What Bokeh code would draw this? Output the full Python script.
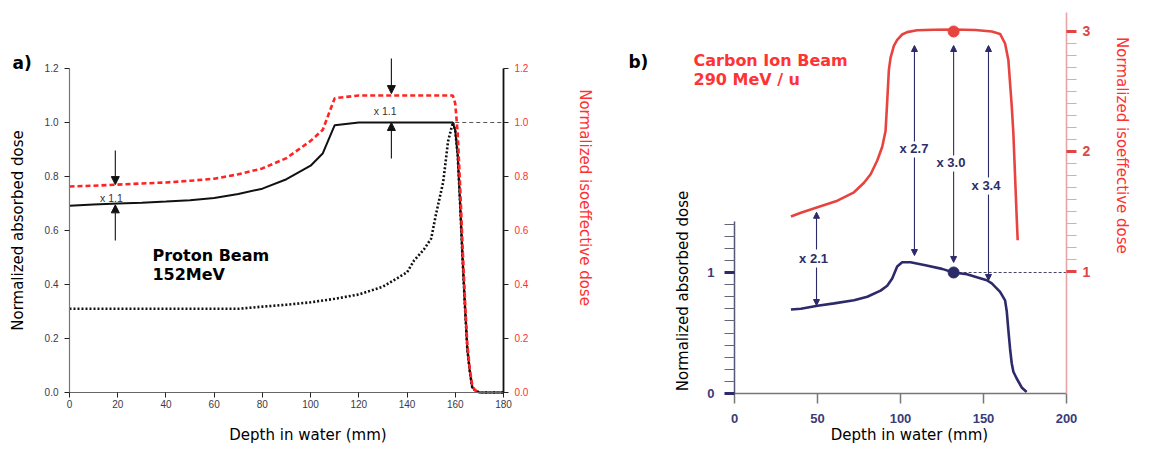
import math
from bokeh.plotting import figure
from bokeh.models import (Range1d, LinearAxis, FixedTicker, PrintfTickFormatter,
                          Label, Arrow, NormalHead)
from bokeh.layouts import row
from bokeh.embed import file_html
from bokeh.resources import INLINE

# ---------------- Panel a: proton beam ----------------
depth_a = [0, 10, 20, 30, 40, 50, 60, 70, 80, 90, 100, 105, 110, 120, 130, 140, 150,
           159, 160, 161, 162, 163, 164, 165, 166, 167, 168, 170, 175, 180]
absorbed_a = [0.692, 0.696, 0.700, 0.703, 0.707, 0.712, 0.720, 0.735, 0.755, 0.790, 0.840,
              0.885, 0.990, 1.0, 1.0, 1.0, 1.0, 1.0, 0.97, 0.88, 0.70, 0.50, 0.32, 0.16,
              0.08, 0.02, 0.01, 0.0, 0.0, 0.0]
isoeffective_a = [0.763, 0.766, 0.770, 0.774, 0.778, 0.784, 0.792, 0.808, 0.830, 0.868,
                  0.932, 0.972, 1.09, 1.10, 1.10, 1.10, 1.10, 1.10, 1.07, 0.96, 0.77, 0.55,
                  0.35, 0.18, 0.09, 0.03, 0.01, 0.0, 0.0, 0.0]
depth_a_dot = [0, 10, 20, 30, 40, 50, 60, 70, 80, 90, 100, 110, 120, 130, 140, 143, 147,
               150, 152, 155, 157, 159, 160, 161, 162, 163, 164, 165, 166, 167, 168, 170,
               175, 180]
dotted_a = [0.31, 0.31, 0.31, 0.31, 0.31, 0.31, 0.31, 0.31, 0.318, 0.325, 0.334, 0.347,
            0.363, 0.392, 0.445, 0.49, 0.53, 0.57, 0.66, 0.78, 0.93, 1.0, 0.97, 0.88, 0.70,
            0.50, 0.32, 0.16, 0.08, 0.02, 0.01, 0.0, 0.0, 0.0]
xticks_a = [0, 20, 40, 60, 80, 100, 120, 140, 160, 180]
yticks_a = [0.0, 0.2, 0.4, 0.6, 0.8, 1.0, 1.2]

# ---------------- Panel b: carbon ion beam ----------------
depth_b_abs = [34, 40, 50, 60, 72, 80, 88, 92, 95, 98, 101, 106, 115, 125, 132, 140, 152,
               155, 160, 163, 164, 165, 166, 167, 168, 170, 173, 176]
absorbed_b = [0.694, 0.70, 0.725, 0.745, 0.77, 0.80, 0.85, 0.89, 0.95, 1.05, 1.085, 1.085,
              1.06, 1.03, 1.0, 0.985, 0.936, 0.91, 0.84, 0.77, 0.68, 0.52, 0.37, 0.25,
              0.18, 0.124, 0.05, 0.013]
depth_b_iso = [34, 40, 50, 62, 72, 78, 82, 86, 89, 91, 92, 93, 94, 96, 98, 101, 104, 110,
               120, 132, 145, 155, 160, 163, 165, 166, 167, 168, 169, 170, 170.6]
isoeffective_b = [1.458, 1.49, 1.536, 1.59, 1.66, 1.74, 1.81, 1.925, 2.04, 2.17, 2.42,
                  2.68, 2.78, 2.88, 2.93, 2.975, 2.995, 3.01, 3.015, 3.017, 3.012, 3.0,
                  2.98, 2.90, 2.76, 2.57, 2.38, 2.15, 1.80, 1.45, 1.26]
xticks_b = [0, 50, 100, 150, 200]
ref_depth_b = [132]
ref_abs_b = [1.0]
ref_iso_b = [3.0]

NAVY = "#2d2a6b"
RED_B = "#e8443f"
RED_A = "#ff2424"

# =============== figure a (frame fills the whole figure; axes fixed in data space) ===============
pa = figure(width=620, height=446, x_range=Range1d(-28.618, 228.53),
            y_range=Range1d(-0.2, 1.45185),
            output_backend="svg", toolbar_location=None, min_border=0)
pa.grid.visible = False
pa.outline_line_color = None

def style_small_axis(ax, line_color, label_color, line_width=1.2):
    ax.axis_line_color = line_color
    ax.axis_line_width = line_width
    ax.major_tick_line_color = "#222222"
    ax.major_tick_out = 5
    ax.major_tick_in = 0
    ax.minor_tick_line_color = None
    ax.major_label_text_font = "Liberation Sans"
    ax.major_label_text_font_size = "10px"
    ax.major_label_text_color = label_color

ax_b = pa.xaxis[0]
ax_b.ticker = FixedTicker(ticks=xticks_a)
ax_b.fixed_location = 0
ax_b.bounds = (0, 180)
style_small_axis(ax_b, "#666666", "#3a3a4a")
ax_b.major_label_standoff = 3

ax_l = pa.yaxis[0]
ax_l.ticker = FixedTicker(ticks=yticks_a)
ax_l.formatter = PrintfTickFormatter(format="%.1f")
ax_l.fixed_location = 0
ax_l.bounds = (0, 1.2)
style_small_axis(ax_l, "#777777", "#3a3a4a")
ax_l.major_label_standoff = 6

ra = LinearAxis(ticker=FixedTicker(ticks=yticks_a), formatter=PrintfTickFormatter(format="%.1f"),
                fixed_location=180, bounds=(0, 1.2))
style_small_axis(ra, "#111111", "#ff3030", 1.8)
ra.major_label_standoff = 6
pa.add_layout(ra, "right")

# curves
pa.line(depth_a_dot, dotted_a, line_color="#111111", line_width=2.6, line_dash="2 2")
pa.line(depth_a, absorbed_a, line_color="#111111", line_width=2)
pa.line(depth_a, isoeffective_a, line_color=RED_A, line_width=2.6, line_dash="5 3")
pa.line([160, 180], [1.0, 1.0], line_color="#555555", line_width=1, line_dash="4 3")

def arr(p, x0, y0, x1, y1, color, size, lw):
    p.add_layout(Arrow(end=NormalHead(size=size, fill_color=color, line_color=color),
                       x_start=x0, y_start=y0, x_end=x1, y_end=y1,
                       line_color=color, line_width=lw))

# x 1.1 arrows
arr(pa, 19, 0.896, 19, 0.770, "#111111", 8, 1.1)
arr(pa, 19, 0.563, 19, 0.695, "#111111", 8, 1.1)
arr(pa, 133.5, 1.237, 133.5, 1.107, "#111111", 8, 1.1)
arr(pa, 133.5, 0.867, 133.5, 1.0, "#111111", 8, 1.1)

def lab(p, x, y, text, size, color="#000000", font="DejaVu Sans", bold=False,
        align="left", angle=0.0):
    p.add_layout(Label(x=x, y=y, text=text, text_font=font, text_font_size=f"{size}px",
                       text_color=color, text_font_style="bold" if bold else "normal",
                       text_align=align, text_baseline="middle", angle=angle))

lab(pa, 17.4, 0.722, "x 1.1", 10.5, "#333333", "Liberation Sans", align="center")
lab(pa, 130.9, 1.044, "x 1.1", 10.5, "#333333", "Liberation Sans", align="center")
lab(pa, -23.6, 1.222, "a)", 17, bold=True)
lab(pa, 34.4, 0.507, "Proton Beam", 16, bold=True)
lab(pa, 34.4, 0.437, "152MeV", 16, bold=True)
lab(pa, -21.2, 0.60, "Normalized absorbed dose", 15, align="center", angle=math.pi / 2)
lab(pa, 214.0, 0.722, "Normalized isoeffective dose", 15, "#ff3030", align="center",
    angle=-math.pi / 2)
lab(pa, 98.9, -0.159, "Depth in water (mm)", 15, align="center")

# =============== figure b ===============
pb = figure(width=513, height=446, x_range=Range1d(-68.675, 240.36),
            y_range=Range1d(-0.438, 3.2479),
            output_backend="svg", toolbar_location=None, min_border=0)
pb.extra_y_ranges = {"iso": Range1d(-0.4583, 3.2583)}
pb.grid.visible = False
pb.outline_line_color = None

bx = pb.xaxis[0]
bx.ticker = FixedTicker(ticks=xticks_b)
bx.fixed_location = 0
bx.bounds = (0, 200)
bx.axis_line_color = "#777777"
bx.axis_line_width = 1.5
bx.major_tick_line_color = "#777777"
bx.major_tick_line_width = 1.5
bx.major_tick_out = 10
bx.major_tick_in = 0
bx.minor_tick_line_color = None
bx.major_label_standoff = 10
bx.major_label_text_font = "Liberation Sans"
bx.major_label_text_font_style = "bold"
bx.major_label_text_font_size = "13px"
bx.major_label_text_color = "#3b3b7a"

by = pb.yaxis[0]
by.ticker = FixedTicker(ticks=[0, 1], minor_ticks=[0.1, 0.2, 0.3, 0.4, 0.5, 0.6, 0.7, 0.8,
                                                  0.9, 1.1, 1.2, 1.3, 1.4])
by.fixed_location = 0
by.bounds = (0, 1.42)
by.axis_line_color = "#55557a"
by.axis_line_width = 1.5
by.major_tick_line_color = NAVY
by.major_tick_line_width = 3
by.major_tick_out = 10
by.major_tick_in = 0
by.minor_tick_line_color = "#666677"
by.minor_tick_line_width = 1.2
by.minor_tick_out = 10
by.minor_tick_in = 0
by.major_label_standoff = 10
by.major_label_text_font = "Liberation Sans"
by.major_label_text_font_style = "bold"
by.major_label_text_font_size = "13px"
by.major_label_text_color = "#3b3b7a"

rb = LinearAxis(y_range_name="iso", fixed_location=200, bounds=(-0.0167, 3.158),
                ticker=FixedTicker(ticks=[1, 2, 3],
                                   minor_ticks=[1 + i / 10 for i in range(1, 10)] +
                                               [2 + i / 10 for i in range(1, 10)]))
rb.axis_line_color = "#e8a5a5"
rb.axis_line_width = 1.6
rb.major_tick_line_color = "#e04545"
rb.major_tick_line_width = 3
rb.major_tick_out = 10
rb.major_tick_in = 0
rb.minor_tick_line_color = "#e8a5a5"
rb.minor_tick_line_width = 1.2
rb.minor_tick_out = 10
rb.minor_tick_in = 0
rb.major_label_standoff = 6
rb.major_label_text_font = "Liberation Sans"
rb.major_label_text_font_style = "bold"
rb.major_label_text_font_size = "14px"
rb.major_label_text_color = "#e04545"
pb.add_layout(rb, "right")

pb.line([ref_depth_b[0], 200], [ref_abs_b[0], ref_abs_b[0]], line_color="#44446a",
        line_width=1, line_dash="3 2")
pb.line(depth_b_iso, isoeffective_b, y_range_name="iso", line_color=RED_B, line_width=2.6)
pb.line(depth_b_abs, absorbed_b, line_color=NAVY, line_width=2.6)
pb.scatter(ref_depth_b, ref_abs_b, size=11, color=NAVY)
pb.scatter(ref_depth_b, ref_iso_b, y_range_name="iso", size=11, color=RED_B)

# ratio arrows
for x, up0, up1, dn0, dn1 in [(49.4, 1.190, 1.498, 1.041, 0.727),
                              (108.4, 2.083, 2.876, 1.950, 1.140),
                              (132.0, 1.967, 2.876, 1.835, 1.083),
                              (153.0, 1.785, 2.876, 1.645, 0.934)]:
    arr(pb, x, up0, x, up1, NAVY, 6, 1.1)
    arr(pb, x, dn0, x, dn1, NAVY, 6, 1.1)

lab(pb, 47.6, 1.116, "x 2.1", 13, "#2d2d66", "Liberation Sans", bold=True, align="center")
lab(pb, 108.1, 2.025, "x 2.7", 13, "#2d2d66", "Liberation Sans", bold=True, align="center")
lab(pb, 130.4, 1.909, "x 3.0", 13, "#2d2d66", "Liberation Sans", bold=True, align="center")
lab(pb, 151.5, 1.719, "x 3.4", 13, "#2d2d66", "Liberation Sans", bold=True, align="center")

lab(pb, -63.9, 2.736, "b)", 17, bold=True)
lab(pb, -24.7, 2.752, "Carbon Ion Beam", 16, "#ff3333", bold=True)
lab(pb, -24.7, 2.595, "290 MeV / u", 16, "#ff3333", bold=True)
lab(pb, -31.3, 0.847, "Normalized absorbed dose", 15, align="center", angle=math.pi / 2)
lab(pb, 233.7, 2.05, "Normalized isoeffective dose", 15, "#ff3030", align="center",
    angle=-math.pi / 2)
lab(pb, 105.4, -0.339, "Depth in water (mm)", 15, align="center")

layout = row(pa, pb)
open("out.html", "w").write(file_html(layout, INLINE))
